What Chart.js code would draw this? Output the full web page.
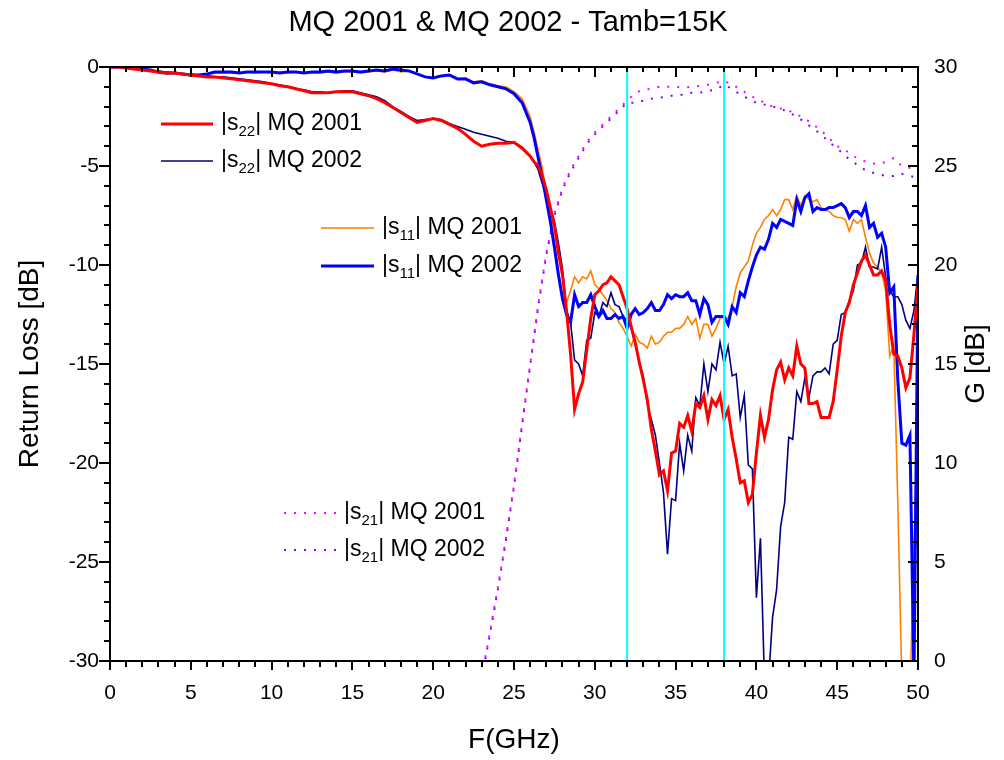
<!DOCTYPE html>
<html>
<head>
<meta charset="utf-8">
<script src="https://cdn.jsdelivr.net/npm/chart.js@4.4.1/dist/chart.umd.min.js"></script>
<style>
  html, body { margin: 0; background: #fff; }
  #wrap { width: 1004px; height: 760px; }
</style>
</head>
<body>
<div id="wrap"><canvas id="chart"></canvas></div>
<script>
const FONT = '"Liberation Sans", Arial, sans-serif';

// frequency grid (GHz) shared by the return-loss curves
const freq = [
  0, 0.5, 1, 1.5, 2, 2.5, 3, 3.5, 4, 4.5,
  5, 5.5, 6, 6.5, 7, 7.5, 8, 8.5, 9, 9.5,
  10, 10.5, 11, 11.5, 12, 12.5, 13, 13.5, 14, 14.5,
  15, 15.5, 16, 16.5, 17, 17.5, 18, 18.5, 19, 19.5,
  20, 20.5, 21, 21.5, 22, 22.5, 23, 23.5, 24, 24.5,
  25, 25.5, 26,
  26.25, 26.5, 26.75, 27, 27.25, 27.5, 27.75, 28, 28.25, 28.5, 28.75, 29,
  29.25, 29.5, 29.75, 30, 30.25, 30.5, 30.75, 31, 31.25, 31.5, 31.75, 32,
  32.25, 32.5, 32.75, 33, 33.25, 33.5, 33.75, 34, 34.25, 34.5, 34.75, 35,
  35.25, 35.5, 35.75, 36, 36.25, 36.5, 36.75, 37, 37.25, 37.5, 37.75, 38,
  38.25, 38.5, 38.75, 39, 39.25, 39.5, 39.75, 40, 40.25, 40.5, 40.75, 41,
  41.25, 41.5, 41.75, 42, 42.25, 42.5, 42.75, 43, 43.25, 43.5, 43.75, 44,
  44.25, 44.5, 44.75, 45, 45.25, 45.5, 45.75, 46, 46.25, 46.5, 46.75, 47,
  47.25, 47.5, 47.75, 48, 48.25, 48.5, 48.75, 49, 49.25, 49.5, 49.75, 50
];

// |s22| MQ 2001 (dB)
const s22Mq2001 = [
  0, 0, -0.05, -0.1, -0.15, -0.2, -0.25, -0.3, -0.3, -0.35,
  -0.4, -0.45, -0.5, -0.5, -0.55, -0.6, -0.65, -0.7, -0.75, -0.8,
  -0.85, -0.95, -1.0, -1.1, -1.2, -1.3, -1.3, -1.3, -1.25, -1.25,
  -1.25, -1.35, -1.45, -1.6, -1.8, -2.05, -2.3, -2.55, -2.8, -2.7,
  -2.6, -2.7, -2.9, -3.1, -3.4, -3.75, -4.0, -3.9, -3.85, -3.85,
  -3.8, -4.1, -4.5,
  -4.8, -5.0, -5.5, -6.2, -7.1, -8.0, -9.4, -10.5, -12.3, -14.5, -17.3, -16.5,
  -15.9, -14.3, -12.7, -11.5, -11.3, -11.0, -10.9, -10.6, -10.8, -11.0, -11.6, -12.2,
  -13.1, -13.9, -14.9, -15.8, -16.8, -18.3, -19.4, -20.6, -20.4, -21.4, -19.5, -19.4,
  -18.0, -18.2, -17.6, -18.4, -17.0, -17.2, -16.6, -17.8, -16.8, -17.1, -16.6, -17.8,
  -17.3, -18.7, -19.8, -21.0, -20.9, -22.0, -21.6, -19.5, -17.6, -18.7, -17.8, -16.3,
  -15.3, -14.9, -15.8, -15.2, -15.6, -14.1, -15.0, -15.2, -17.0, -17.0, -16.9, -17.7,
  -17.7, -17.7, -16.9, -15.3, -13.6, -12.4, -11.9, -11.0, -10.4, -9.8, -9.5, -10.0,
  -10.5, -10.5, -10.3, -10.8, -13.0, -14.5, -14.6, -15.2, -16.2, -15.7, -13.5, -11.0
];

// |s22| MQ 2002 (dB)
const s22Mq2002 = [
  0, 0, -0.05, -0.1, -0.15, -0.2, -0.2, -0.25, -0.3, -0.35,
  -0.35, -0.4, -0.45, -0.5, -0.5, -0.55, -0.6, -0.65, -0.7, -0.75,
  -0.85, -0.9, -1.0, -1.1, -1.15, -1.25, -1.25, -1.3, -1.25, -1.2,
  -1.2, -1.3, -1.4, -1.5, -1.7, -2.0, -2.25, -2.5, -2.7, -2.65,
  -2.6, -2.65, -2.85, -3.0, -3.15, -3.3, -3.4, -3.5, -3.6, -3.75,
  -3.8, -4.05, -4.5,
  -4.8, -5.2, -5.9, -6.5, -7.1, -7.8, -8.9, -10.2, -12.3, -12.9, -14.8, -15.0,
  -15.6, -13.8, -13.7, -12.4, -12.6, -11.9, -12.1, -11.4, -12.0, -12.1, -12.6, -12.8,
  -13.2, -14.0, -14.9, -15.6, -17.0, -17.8, -18.6, -20.0, -21.5, -24.6, -21.8, -21.9,
  -19.0, -20.4, -18.6, -19.4, -16.7, -17.1, -15.0, -16.4, -15.0, -15.3, -13.9, -15.0,
  -14.1, -15.6, -15.5, -17.7, -16.6, -20.1, -20.3, -26.8, -23.8, -31.0, -31.0, -27.8,
  -26.4, -23.2, -22.0, -18.7, -18.8, -16.4, -16.9, -15.7, -16.7, -15.6, -15.4, -15.4,
  -15.2, -15.5, -14.0, -13.8, -12.5, -12.4, -11.8, -11.3, -10.0, -9.9, -9.1, -10.1,
  -10.1, -10.2, -9.1, -10.6, -11.3, -11.6, -11.6, -12.0, -12.8, -13.2, -12.3, -10.4
];

// |s11| MQ 2001 (dB)
const s11Mq2001 = [
  0, 0, 0, -0.05, -0.1, -0.2, -0.3, -0.35, -0.3, -0.35,
  -0.45, -0.45, -0.35, -0.3, -0.3, -0.3, -0.3, -0.25, -0.3, -0.25,
  -0.3, -0.25, -0.3, -0.25, -0.3, -0.3, -0.3, -0.25, -0.3, -0.25,
  -0.25, -0.3, -0.25, -0.2, -0.25, -0.15, -0.25, -0.2, -0.35, -0.5,
  -0.55, -0.45, -0.4, -0.6, -0.55, -0.75, -0.7, -0.85, -0.95, -1.0,
  -1.25, -1.6, -2.5,
  -3.3, -4.2, -5.1, -6.4, -7.4, -8.9, -10.3, -11.6, -11.9, -11.3, -10.6, -10.9,
  -10.6, -10.7, -10.3, -11.0, -11.2, -11.5, -11.8, -12.2, -12.4, -12.9, -13.2, -13.6,
  -14.1, -13.5, -13.9, -14.0, -14.2, -13.6, -14.0, -13.9, -13.6, -13.4, -13.4, -13.2,
  -13.2, -13.0, -12.6, -13.0, -12.7, -13.7, -13.0, -13.0, -13.6, -13.2, -12.7, -12.6,
  -12.7, -12.1, -11.1, -10.4, -10.1, -9.8, -9.0, -8.4, -8.1, -7.7, -7.5, -7.2,
  -7.5, -7.2, -6.7, -6.7, -7.2, -6.5, -7.0, -6.5, -6.7, -6.8, -6.7, -7.1,
  -7.2, -7.3, -7.5, -7.6, -7.6, -7.7, -8.3, -7.7, -7.9, -7.7, -8.6, -9.4,
  -9.9, -10.1, -10.4, -11.3, -14.6, -14.0, -22.0, -31.0, -34.0, -32.0, -24.0, -18.0
];

// |s11| MQ 2002 (dB)
const s11Mq2002 = [
  0, 0, 0, -0.05, -0.1, -0.15, -0.25, -0.3, -0.3, -0.35,
  -0.4, -0.4, -0.35, -0.25, -0.25, -0.25, -0.3, -0.25, -0.25, -0.25,
  -0.25, -0.3, -0.25, -0.25, -0.3, -0.25, -0.25, -0.2, -0.25, -0.2,
  -0.2, -0.25, -0.2, -0.15, -0.2, -0.1, -0.15, -0.2, -0.35, -0.5,
  -0.55, -0.45, -0.4, -0.6, -0.6, -0.8, -0.75, -0.9, -1.0, -1.1,
  -1.35, -1.8, -2.8,
  -3.6, -4.6, -5.6, -6.7, -7.8, -9.1, -10.5, -11.7, -12.5, -12.9, -11.5, -12.1,
  -11.9, -11.9, -11.5, -12.1, -12.6, -12.3, -12.7, -12.7, -12.5, -12.7, -12.6, -13.2,
  -12.5, -12.2, -12.5, -12.4, -12.2, -11.9, -12.3, -12.3, -12.0, -11.5, -11.7, -11.5,
  -11.6, -11.6, -11.4, -11.8, -11.8, -12.5, -11.7, -12.0, -12.9, -12.6, -12.6, -12.6,
  -13.0, -12.1, -12.4, -11.4, -11.6, -10.8, -10.1, -9.5, -9.1, -9.2, -8.7, -7.9,
  -8.1, -7.7, -7.8, -7.9, -8.0, -6.7, -7.3, -6.6, -6.4, -7.3, -7.1, -7.2,
  -7.2, -7.1, -7.1, -7.0, -6.9, -7.1, -7.6, -7.3, -7.3, -7.5, -7.0, -8.1,
  -7.9, -8.6, -8.4, -9.1, -11.4, -11.1, -15.8, -19.0, -19.1, -18.6, -31.0, -10.5
];

// frequency grid (GHz) for the gain curves
const freqGain = [
  23, 23.5, 24, 24.5, 25, 25.5, 26, 26.5, 27,
  27.5, 28, 28.5, 29, 29.5, 30, 30.5, 31, 31.5, 32,
  32.5, 33, 33.5, 34, 34.5, 35, 35.5, 36, 36.5, 37,
  37.5, 38, 38.5, 39, 39.5, 40, 40.5, 41, 41.5, 42,
  42.5, 43, 43.5, 44, 44.5, 45, 45.5, 46, 46.5, 47,
  47.5, 48, 48.5, 49, 49.5, 50
];

// |s21| MQ 2001 (G, dB)
const s21Mq2001 = [
  -0.8, 1.4, 3.7, 6.2, 8.9, 12.0, 15.0, 18.0, 20.6,
  22.6, 23.9, 24.8, 25.5, 26.2, 26.7, 27.1, 27.5, 27.9, 28.3,
  28.7, 28.85, 28.9, 29.0, 29.0, 29.0, 28.95, 29.0, 29.05, 29.1,
  29.2, 29.3, 29.1, 28.9, 28.6, 28.4, 28.2, 28.0, 27.9, 27.8,
  27.6, 27.4, 27.1, 26.8, 26.4, 26.0, 25.8, 25.5, 25.3, 25.15,
  25.1, 25.2, 25.4, 25.0, 24.9, 24.8
];

// |s21| MQ 2002 (G, dB)
const s21Mq2002 = [
  -0.9, 1.3, 3.6, 6.1, 8.8, 11.9, 14.9, 17.9, 20.5,
  22.5, 23.8, 24.7, 25.4, 26.1, 26.6, 27.0, 27.4, 27.8, 28.2,
  28.2, 28.3, 28.4, 28.45, 28.5, 28.6, 28.6, 28.7, 28.7, 28.8,
  28.85, 29.1, 28.9, 28.6, 28.4, 28.2, 28.1, 28.0, 27.9, 27.7,
  27.5, 27.2, 26.9, 26.6, 26.2, 25.9, 25.5, 25.2, 24.9, 24.7,
  24.6, 24.5, 24.5, 24.6, 24.5, 24.4
];

// band edges marked with vertical lines (GHz)
const bandEdges = [32, 38];

const pts = (xs, ys) => xs.map((x, i) => ({ x, y: ys[i] }));

function curve(label, xs, ys, color, width, axis, dash) {
  return {
    label,
    data: pts(xs, ys),
    borderColor: color,
    borderWidth: width,
    borderDash: dash || [],
    yAxisID: axis,
    pointRadius: 0,
    tension: 0,
    fill: false,
  };
}

const edgeSets = bandEdges.map((f) => ({
  label: `edge ${f}`,
  data: [{ x: f, y: -30 }, { x: f, y: 0 }],
  borderColor: '#00FFFF',
  borderWidth: 2,
  yAxisID: 'y',
  pointRadius: 0,
}));

const legendItems = [
  { x1: 161, x2: 213, y: 124, color: '#FF0000', width: 3, dash: [], sub: '22', text: 'MQ 2001' },
  { x1: 161, x2: 213, y: 161, color: '#000080', width: 1.6, dash: [], sub: '22', text: 'MQ 2002' },
  { x1: 321, x2: 374, y: 228, color: '#FF8000', width: 1.6, dash: [], sub: '11', text: 'MQ 2001' },
  { x1: 321, x2: 374, y: 266, color: '#0000FF', width: 3, dash: [], sub: '11', text: 'MQ 2002' },
  { x1: 284, x2: 336, y: 513, color: '#FF00FF', width: 2, dash: [2, 8], sub: '21', text: 'MQ 2001' },
  { x1: 284, x2: 336, y: 550, color: '#8000FF', width: 2, dash: [2, 8], sub: '21', text: 'MQ 2002' },
];

const decorations = {
  id: 'decorations',
  afterDatasetsDraw(chart) {
    const { ctx, chartArea: a, scales: { x, y, y2 } } = chart;
    ctx.save();
    ctx.strokeStyle = '#000';
    ctx.lineWidth = 2;
    ctx.strokeRect(a.left, a.top, a.right - a.left, a.bottom - a.top);

    ctx.beginPath();
    for (let v = 0; v <= 50; v++) {
      const px = Math.round(x.getPixelForValue(v));
      const major = v % 5 === 0;
      ctx.moveTo(px, a.bottom); ctx.lineTo(px, a.bottom + (major ? 9 : 6));
      ctx.moveTo(px, a.top); ctx.lineTo(px, a.top + (major ? 10 : 5));
    }
    for (let v = -30; v <= 0; v++) {
      const py = Math.round(y.getPixelForValue(v));
      ctx.moveTo(a.left, py); ctx.lineTo(a.left - (v % 5 === 0 ? 11 : 6), py);
    }
    for (let v = 0; v <= 30; v++) {
      const py = Math.round(y2.getPixelForValue(v));
      ctx.moveTo(a.right, py); ctx.lineTo(a.right - (v % 5 === 0 ? 10 : 6), py);
    }
    ctx.stroke();

    // legend entries inside the plot
    ctx.fillStyle = '#000';
    ctx.textBaseline = 'middle';
    legendItems.forEach((it) => {
      ctx.save();
      ctx.strokeStyle = it.color;
      ctx.lineWidth = it.width;
      ctx.setLineDash(it.dash);
      ctx.beginPath();
      ctx.moveTo(it.x1, it.y);
      ctx.lineTo(it.x2, it.y);
      ctx.stroke();
      ctx.restore();
      let tx = it.x2 + 8;
      ctx.font = `23px ${FONT}`;
      ctx.fillText('|s', tx, it.y);
      tx += ctx.measureText('|s').width;
      ctx.font = `15px ${FONT}`;
      ctx.fillText(it.sub, tx, it.y + 8);
      tx += ctx.measureText(it.sub).width;
      ctx.font = `23px ${FONT}`;
      ctx.fillText('| ' + it.text, tx, it.y);
    });

    // titles
    ctx.textAlign = 'center';
    ctx.font = `29px ${FONT}`;
    ctx.fillText('MQ 2001 & MQ 2002 - Tamb=15K', 508, 23);
    ctx.font = `28px ${FONT}`;
    ctx.fillText('F(GHz)', 514, 740);
    ctx.save();
    ctx.translate(30, 364);
    ctx.rotate(-Math.PI / 2);
    ctx.fillText('Return Loss [dB]', 0, 0);
    ctx.restore();
    ctx.save();
    ctx.translate(976, 364);
    ctx.rotate(-Math.PI / 2);
    ctx.fillText('G [dB]', 0, 0);
    ctx.restore();
    ctx.restore();
  },
};

const tickFont = { family: FONT, size: 21 };

new Chart(document.getElementById('chart'), {
  type: 'line',
  data: {
    datasets: [
      ...edgeSets,
      curve('|s22| MQ 2001', freq, s22Mq2001, '#FF0000', 3, 'y'),
      curve('|s11| MQ 2002', freq, s11Mq2002, '#0000FF', 3, 'y'),
      curve('|s22| MQ 2002', freq, s22Mq2002, '#000080', 1.6, 'y'),
      curve('|s11| MQ 2001', freq, s11Mq2001, '#FF8000', 1.6, 'y'),
      curve('|s21| MQ 2001', freqGain, s21Mq2001, '#FF00FF', 2, 'y2', [2, 8]),
      curve('|s21| MQ 2002', freqGain, s21Mq2002, '#8000FF', 2, 'y2', [2, 8]),
    ],
  },
  options: {
    responsive: true,
    maintainAspectRatio: false,
    animation: false,
    events: [],
    layout: { padding: { top: 67, left: 0, right: 0, bottom: 0 } },
    plugins: { legend: { display: false }, tooltip: { enabled: false } },
    scales: {
      x: {
        type: 'linear',
        min: 0,
        max: 50,
        grid: { display: false, drawTicks: false },
        border: { display: false },
        ticks: { stepSize: 5, color: '#000', font: tickFont, padding: 20, maxRotation: 0 },
        afterFit: (s) => { s.height = 99; },
      },
      y: {
        position: 'left',
        min: -30,
        max: 0,
        grid: { display: false, drawTicks: false },
        border: { display: false },
        ticks: { stepSize: 5, color: '#000', font: tickFont, padding: 11 },
        afterFit: (s) => { s.width = 110; },
      },
      y2: {
        position: 'right',
        min: 0,
        max: 30,
        grid: { display: false, drawTicks: false },
        border: { display: false },
        ticks: { stepSize: 5, color: '#000', font: tickFont, padding: 16 },
        afterFit: (s) => { s.width = 86; },
      },
    },
  },
  plugins: [decorations],
});
</script>
</body>
</html>
